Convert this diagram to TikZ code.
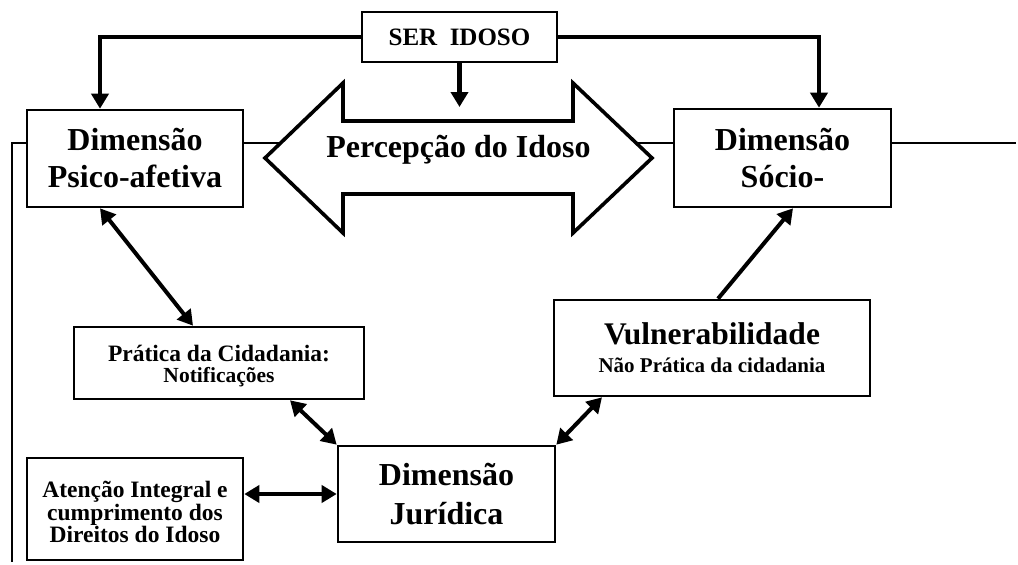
\documentclass[tikz,border=0pt]{standalone}
\usepackage{fontspec}
\setmainfont{Liberation Serif}
\usetikzlibrary{arrows.meta}
\begin{document}
\begin{tikzpicture}[x=1pt,y=-1pt,
  box/.style={draw, line width=2.6pt, inner sep=0pt, align=center},
  arrowline/.style={line width=4pt, -{Triangle[length=15pt,width=17pt]}},
  bothline/.style={line width=4pt, {Triangle[length=15pt,width=17pt]}-{Triangle[length=15pt,width=17pt]}},
  thinline/.style={line width=2pt},
  bigarrow/.style={draw, line width=3.6pt, fill=white, line join=miter}]
\path[fill=white] (0,0) rectangle (1018,565);
\useasboundingbox (0,0) rectangle (1018,565);

% boxes
\node[box, minimum width=195pt, minimum height=50pt,
      font=\bfseries\fontsize{25}{25}\selectfont] (ser) at (459.5,37) {SER\ \ IDOSO};
\node[box, minimum width=216pt, minimum height=97pt,
      font=\bfseries\fontsize{32}{37}\selectfont] (psico) at (135,158.5) {Dimensão\\Psico-afetiva};
\node[box, minimum width=217pt, minimum height=98pt,
      font=\bfseries\fontsize{32}{37}\selectfont] (socio) at (782.5,158) {Dimensão\\Sócio-};
\node[box, minimum width=290pt, minimum height=72pt,
      font=\bfseries\fontsize{21.5}{21}\selectfont] (pratica) at (219,363)
      {\rule{0pt}{22.5pt}{\fontsize{23.5}{21}\selectfont Prática da Cidadania:}\\Notificações};
\node[box, minimum width=216pt, minimum height=102pt,
      font=\bfseries\fontsize{23.5}{22.5}\selectfont] (atencao) at (135,509)
      {\rule{0pt}{23pt}Atenção Integral e\\cumprimento dos\\Direitos do Idoso};
\node[box, minimum width=217pt, minimum height=96pt,
      font=\bfseries\fontsize{32}{39}\selectfont] (jur) at (446.5,494) {Dimensão\\Jurídica};
\node[box, minimum width=316pt, minimum height=96pt,
      font=\bfseries\fontsize{21}{28}\selectfont] (vul) at (712,348)
      {{\fontsize{31.5}{28}\selectfont Vulnerabilidade}\\Não Prática da cidadania};

% helper coordinates
\coordinate (ltip) at (265,158);
\coordinate (rtip) at (652,158);
\coordinate (lj) at (300,143);
\coordinate (rj) at (620,143);
\coordinate (lcorner) at (12,143);
\coordinate (lend) at (12,562);
\coordinate (rend) at (1016,143);
\coordinate (pin) at (459.5,107);

% thin lines
\draw[thinline] ([yshift=15.5pt]psico.east) -- (lj);
\draw[thinline] (rj) -- ([yshift=15pt]socio.west);
\draw[thinline] ([yshift=15pt]socio.east) -- (rend);
\draw[thinline] ([yshift=15.5pt]psico.west) -- (lcorner) -- (lend);

% big double arrow
\path[bigarrow] (ltip) -- (343,83) -- (343,121) -- (573,121) -- (573,83) -- (rtip)
  -- (573,233) -- (573,194) -- (343,194) -- (343,233) -- cycle;
\node[anchor=base, inner sep=0pt, font=\bfseries\fontsize{32}{32}\selectfont] (perc)
  at (458.5,157) {Percepção do Idoso};

% thick connectors
\draw[arrowline] (ser.west) -| ([xshift=-35pt]psico.north);
\draw[arrowline] (ser.east) -| ([xshift=36.5pt]socio.north);
\draw[arrowline, line width=5.5pt] (ser.south) -- (pin);
\draw[bothline] ([xshift=-35pt]psico.south) -- ([xshift=-26pt]pratica.north);
\draw[bothline] ([xshift=71pt]pratica.south) -- (jur.north west);
\draw[bothline] (atencao.east |- jur.west) -- (jur.west);
\draw[bothline] (jur.north east) -- ([xshift=-110pt]vul.south);
\draw[arrowline] ([xshift=6pt]vul.north) -- ([xshift=10.5pt]socio.south);
\end{tikzpicture}
\end{document}
